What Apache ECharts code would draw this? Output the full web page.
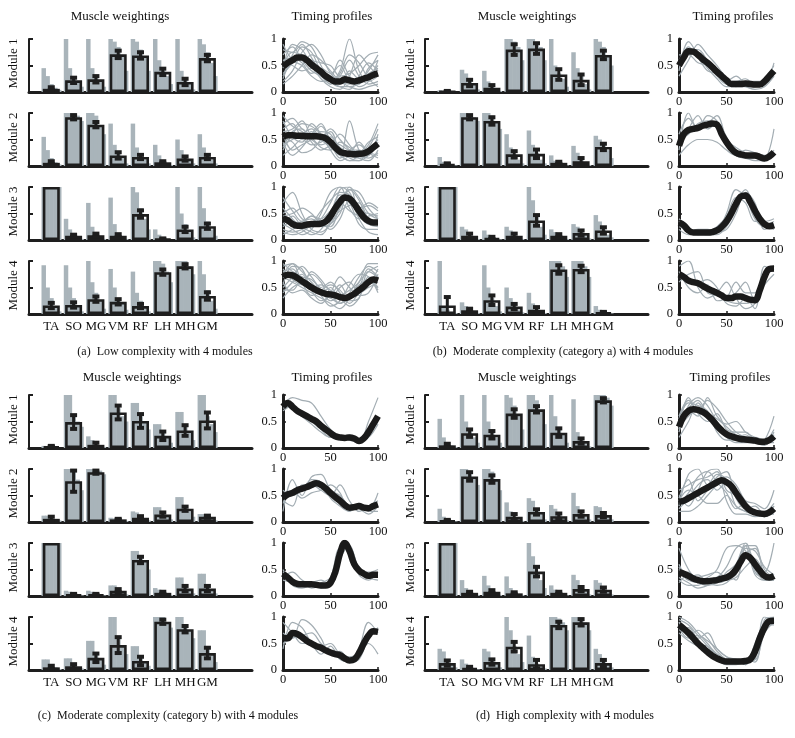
<!DOCTYPE html>
<html><head><meta charset="utf-8">
<script src="https://cdn.jsdelivr.net/npm/echarts@6/dist/echarts.min.js"></script>
<style>html,body{margin:0;padding:0;background:#fff}#c{width:795px;height:738px}</style>
</head><body><div id="c"></div>
<script>
const muscles = ['TA','SO','MG','VM','RF','LH','MH','GM'];
const modules = ['Module 1','Module 2','Module 3','Module 4'];
const captions = ['(a)  Low complexity with 4 modules','(b)  Moderate complexity (category a) with 4 modules','(c)  Moderate complexity (category b) with 4 modules','(d)  High complexity with 4 modules'];
const timeTicks = [0, 50, 100];

// ---- mean muscle weightings ----
const weightA = [[0.06,0.22,0.24,0.71,0.69,0.38,0.19,0.64],[0.06,0.92,0.78,0.20,0.17,0.07,0.14,0.17],[1.00,0.08,0.09,0.08,0.49,0.02,0.20,0.26],[0.16,0.17,0.28,0.23,0.15,0.79,0.90,0.34]];
const sdA = [[0.03,0.05,0.06,0.07,0.06,0.06,0.06,0.06],[0.03,0.04,0.05,0.06,0.04,0.02,0.04,0.04],[0,0.02,0.03,0.03,0.07,0.01,0.05,0.05],[0.05,0.05,0.05,0.05,0.04,0.05,0.04,0.07]];
const weightB = [[0.01,0.17,0.08,0.80,0.82,0.33,0.23,0.70],[0.04,0.92,0.85,0.22,0.23,0.06,0.09,0.36],[1.00,0.08,0.04,0.08,0.37,0.08,0.13,0.18],[0.16,0.07,0.26,0.14,0.08,0.84,0.85,0.03]];
const sdB = [[0.01,0.06,0.05,0.10,0.10,0.10,0.10,0.08],[0.01,0.04,0.07,0.06,0.08,0.02,0.06,0.06],[0,0.04,0.02,0.04,0.10,0.03,0.05,0.06],[0.16,0.03,0.09,0.05,0.05,0.08,0.06,0.01]];
const weightC = [[0.03,0.49,0.06,0.67,0.51,0.23,0.33,0.52],[0.06,0.77,0.94,0.05,0.08,0.14,0.25,0.10],[1.00,0.03,0.03,0.10,0.68,0.06,0.14,0.14],[0.05,0.07,0.23,0.47,0.17,0.91,0.77,0.32]];
const sdC = [[0.01,0.13,0.04,0.13,0.13,0.08,0.10,0.15],[0.04,0.20,0.03,0.01,0.03,0.04,0.04,0.02],[0,0.01,0.01,0.03,0.06,0.02,0.05,0.05],[0.03,0.04,0.08,0.15,0.08,0.04,0.06,0.10]];
const weightD = [[0.05,0.28,0.25,0.65,0.73,0.29,0.13,0.90],[0.03,0.86,0.81,0.10,0.19,0.11,0.15,0.13],[1.00,0.06,0.08,0.05,0.46,0.06,0.13,0.12],[0.13,0.04,0.15,0.44,0.11,0.85,0.90,0.13]];
const sdD = [[0.03,0.07,0.07,0.08,0.06,0.08,0.05,0.04],[0.01,0.08,0.07,0.05,0.05,0.05,0.05,0.04],[0,0.02,0.03,0.02,0.09,0.02,0.04,0.04],[0.05,0.02,0.05,0.09,0.08,0.06,0.06,0.06]];

// ---- individual subject weightings (sorted, grey) ----
const greyA = [
 [[0.45,0.3,0.15,0.08,0.04],[1,0.45,0.3,0.2,0.1],[1,0.45,0.3,0.2,0.1],[1,0.95,0.85,0.7,0.4],[1,0.95,0.8,0.65,0.4],[1,0.6,0.4,0.3,0.15],[1,0.4,0.25,0.15,0.05],[1,0.9,0.75,0.55,0.3]],
 [[0.55,0.3,0.15,0.07,0.03],[1,1,1,0.95,0.85],[1,1,0.95,0.75,0.6],[0.8,0.4,0.25,0.15,0.05],[0.8,0.35,0.2,0.12,0.05],[0.4,0.2,0.1,0.05,0.02],[0.5,0.3,0.15,0.1,0.05],[0.6,0.35,0.2,0.12,0.05]],
 [[1,1,1,1,1],[0.4,0.2,0.1,0.05,0.02],[0.7,0.25,0.12,0.06,0.02],[0.8,0.3,0.12,0.06,0.02],[1,0.9,0.6,0.4,0.2],[0.2,0.1,0.03,0.01,0],[1,0.5,0.3,0.15,0.05],[1,0.6,0.35,0.2,0.08]],
 [[0.92,0.5,0.3,0.15,0.05],[0.92,0.5,0.3,0.15,0.05],[1,0.6,0.4,0.25,0.1],[0.85,0.5,0.3,0.2,0.08],[0.8,0.4,0.25,0.12,0.05],[1,1,0.95,0.8,0.6],[1,1,1,0.9,0.75],[1,0.75,0.45,0.25,0.1]]];
const greyB = [
 [[0.03,0.02,0.01,0,0],[0.42,0.35,0.25,0.15,0.05],[0.4,0.2,0.1,0.05,0.02],[1,1,0.95,0.85,0.6],[1,1,0.95,0.85,0.6],[1,0.5,0.35,0.25,0.1],[0.75,0.45,0.3,0.15,0.05],[1,0.95,0.85,0.7,0.5]],
 [[0.17,0.08,0.04,0.02,0.01],[1,1,0.97,0.92,0.85],[1,1,0.95,0.85,0.7],[0.6,0.35,0.22,0.12,0.05],[0.67,0.4,0.25,0.12,0.05],[0.2,0.1,0.06,0.03,0.01],[0.38,0.25,0.12,0.06,0.02],[0.57,0.5,0.4,0.3,0.15]],
 [[1,1,1,1,1],[0.25,0.2,0.1,0.05,0.02],[0.18,0.1,0.05,0.03,0.01],[0.25,0.18,0.1,0.05,0.02],[1,0.75,0.45,0.25,0.1],[0.2,0.15,0.08,0.04,0.02],[0.3,0.25,0.15,0.08,0.03],[0.47,0.35,0.2,0.1,0.05]],
 [[1,0.15,0.08,0.04,0.02],[0.22,0.15,0.08,0.04,0.02],[0.92,0.5,0.3,0.15,0.05],[0.5,0.3,0.15,0.08,0.03],[0.4,0.2,0.1,0.05,0.02],[1,1,1,0.9,0.7],[1,1,1,0.9,0.7],[0.15,0.08,0.04,0.02,0.01]]];
const greyC = [
 [[0.04,0.03,0.02,0.01,0],[1,1,0.6,0.5,0.4],[0.22,0.15,0.08,0.04,0.02],[1,1,0.75,0.6,0.5],[0.85,0.85,0.6,0.5,0.35],[0.45,0.45,0.3,0.2,0.1],[0.68,0.68,0.4,0.3,0.15],[1,1,0.6,0.45,0.3]],
 [[0.12,0.12,0.08,0.05,0.03],[1,1,1,0.8,0.6],[1,1,1,0.97,0.9],[0.08,0.07,0.05,0.03,0.02],[0.2,0.18,0.1,0.05,0.03],[0.28,0.28,0.15,0.1,0.05],[0.47,0.47,0.3,0.2,0.1],[0.15,0.15,0.1,0.06,0.03]],
 [[1,1,1,1,1],[0.1,0.08,0.04,0.02,0.01],[0.1,0.08,0.04,0.02,0.01],[0.2,0.2,0.12,0.06,0.03],[0.85,0.85,0.75,0.65,0.5],[0.15,0.12,0.07,0.04,0.02],[0.35,0.35,0.2,0.1,0.05],[0.42,0.42,0.2,0.1,0.05]],
 [[0.2,0.2,0.1,0.05,0.02],[0.22,0.22,0.1,0.06,0.03],[0.55,0.55,0.3,0.2,0.1],[1,1,0.6,0.45,0.3],[0.45,0.45,0.25,0.15,0.08],[1,1,1,0.9,0.8],[1,1,0.85,0.75,0.6],[0.75,0.75,0.45,0.3,0.15]]];
const greyD = [
 [[0.55,0.2,0.1,0.05,0.02],[1,0.5,0.35,0.2,0.1],[1,0.5,0.3,0.2,0.1],[1,0.95,0.8,0.6,0.35],[1,1,0.9,0.7,0.45],[1,0.6,0.4,0.25,0.1],[0.92,0.3,0.15,0.08,0.03],[1,1,1,0.95,0.8]],
 [[0.25,0.1,0.05,0.02,0.01],[1,1,0.95,0.85,0.7],[1,1,0.95,0.8,0.6],[0.37,0.2,0.1,0.05,0.02],[0.45,0.4,0.25,0.15,0.05],[0.32,0.25,0.15,0.08,0.03],[0.55,0.3,0.2,0.1,0.05],[0.3,0.28,0.18,0.1,0.05]],
 [[1,1,1,1,1],[0.3,0.15,0.08,0.04,0.02],[0.38,0.2,0.1,0.05,0.02],[0.37,0.15,0.08,0.04,0.02],[1,0.75,0.45,0.3,0.15],[0.2,0.12,0.06,0.03,0.01],[0.4,0.3,0.15,0.08,0.03],[0.3,0.25,0.15,0.08,0.03]],
 [[0.4,0.35,0.2,0.1,0.05],[0.2,0.12,0.06,0.03,0.01],[0.4,0.35,0.2,0.1,0.05],[1,0.75,0.45,0.3,0.15],[0.65,0.25,0.12,0.06,0.03],[1,1,0.97,0.9,0.75],[1,1,1,0.9,0.75],[0.4,0.3,0.2,0.1,0.05]]];

// ---- mean timing profiles (samples every 5 % of cycle) ----
const meanA = [
 [0.48,0.55,0.6,0.65,0.65,0.6,0.52,0.45,0.38,0.3,0.24,0.2,0.2,0.24,0.22,0.2,0.22,0.25,0.28,0.32,0.35],
 [0.55,0.58,0.58,0.57,0.57,0.56,0.56,0.56,0.55,0.52,0.45,0.35,0.27,0.24,0.23,0.22,0.23,0.24,0.28,0.35,0.42],
 [0.4,0.37,0.3,0.27,0.27,0.29,0.3,0.3,0.31,0.35,0.45,0.6,0.72,0.8,0.78,0.68,0.55,0.43,0.36,0.33,0.33],
 [0.7,0.74,0.73,0.68,0.62,0.56,0.5,0.45,0.41,0.38,0.37,0.35,0.32,0.3,0.33,0.38,0.45,0.52,0.6,0.65,0.63]];
const meanB = [
 [0.5,0.65,0.77,0.76,0.7,0.62,0.55,0.47,0.38,0.3,0.22,0.15,0.15,0.15,0.16,0.15,0.14,0.14,0.2,0.3,0.4],
 [0.38,0.6,0.68,0.7,0.72,0.76,0.78,0.8,0.78,0.6,0.45,0.33,0.25,0.22,0.2,0.2,0.2,0.17,0.14,0.18,0.26],
 [0.33,0.28,0.18,0.14,0.14,0.14,0.14,0.15,0.18,0.25,0.35,0.5,0.68,0.82,0.84,0.72,0.55,0.4,0.3,0.26,0.28],
 [0.75,0.7,0.63,0.6,0.58,0.53,0.48,0.44,0.4,0.35,0.3,0.3,0.33,0.33,0.3,0.27,0.26,0.45,0.7,0.85,0.86]];
const meanC = [
 [0.78,0.85,0.78,0.7,0.65,0.6,0.55,0.5,0.42,0.35,0.28,0.22,0.2,0.19,0.2,0.18,0.13,0.18,0.3,0.45,0.6],
 [0.45,0.52,0.55,0.6,0.63,0.66,0.7,0.73,0.7,0.63,0.55,0.47,0.4,0.32,0.27,0.28,0.3,0.27,0.26,0.3,0.33],
 [0.42,0.35,0.27,0.23,0.22,0.22,0.22,0.21,0.2,0.2,0.25,0.45,0.8,1.0,0.85,0.6,0.48,0.42,0.38,0.4,0.4],
 [0.6,0.6,0.7,0.68,0.62,0.55,0.5,0.45,0.42,0.37,0.33,0.3,0.28,0.22,0.18,0.2,0.32,0.5,0.65,0.73,0.72]];
const meanD = [
 [0.4,0.6,0.7,0.73,0.72,0.68,0.62,0.53,0.42,0.33,0.26,0.22,0.19,0.17,0.16,0.15,0.14,0.12,0.12,0.15,0.22],
 [0.38,0.4,0.45,0.5,0.55,0.6,0.65,0.7,0.75,0.79,0.75,0.68,0.55,0.42,0.3,0.22,0.18,0.16,0.15,0.18,0.25],
 [0.45,0.42,0.38,0.33,0.3,0.28,0.28,0.29,0.3,0.33,0.35,0.4,0.5,0.65,0.77,0.72,0.6,0.48,0.38,0.35,0.38],
 [0.85,0.78,0.7,0.6,0.5,0.42,0.34,0.27,0.22,0.18,0.16,0.16,0.16,0.16,0.17,0.2,0.35,0.6,0.8,0.92,0.93]];

// ---- individual timing profiles (samples every 10 % of cycle) ----
const linesA = [
 [[0.3,0.7,0.95,0.85,0.5,0.2,0.1,0.1,0.15,0.3,0.5],[0.7,0.85,0.6,0.4,0.3,0.2,0.4,1.0,0.4,0.2,0.3],[0.2,0.4,0.75,0.9,0.7,0.35,0.2,0.15,0.2,0.4,0.7],[0.6,0.5,0.4,0.45,0.3,0.15,0.3,0.6,0.3,0.15,0.2],[0.45,0.9,0.8,0.5,0.25,0.1,0.05,0.3,0.7,0.5,0.3],[0.9,0.6,0.5,0.3,0.2,0.25,0.6,0.3,0.1,0.2,0.6],[0.15,0.3,0.5,0.7,0.6,0.4,0.2,0.1,0.05,0.1,0.15],[0.5,0.75,0.7,0.6,0.55,0.5,0.3,0.35,0.5,0.7,0.75],
  [0.35,0.55,0.85,0.75,0.4,0.3,0.15,0.4,0.25,0.35,0.45],[0.6,0.65,0.55,0.35,0.45,0.35,0.5,0.2,0.15,0.45,0.6],[0.25,0.6,0.65,0.55,0.35,0.2,0.1,0.05,0.3,0.55,0.4],[0.8,0.75,0.9,0.65,0.35,0.15,0.35,0.7,0.55,0.25,0.1]],
 [[0.8,0.9,0.7,0.6,0.75,0.5,0.3,0.2,0.15,0.2,0.4],[0.4,0.5,0.6,0.7,0.5,0.35,0.2,0.85,0.3,0.2,0.6],[0.6,0.3,0.4,0.5,0.65,0.6,0.3,0.15,0.1,0.3,0.5],[0.95,0.75,0.65,0.5,0.4,0.45,0.4,0.3,0.3,0.25,0.2],[0.3,0.6,0.8,0.75,0.6,0.4,0.2,0.1,0.2,0.4,0.8],[0.55,0.45,0.25,0.3,0.5,0.7,0.5,0.3,0.15,0.1,0.3],[0.7,0.8,0.55,0.8,0.6,0.3,0.1,0.2,0.45,0.3,0.35],[0.2,0.35,0.5,0.4,0.45,0.55,0.35,0.25,0.2,0.15,0.25],
  [0.65,0.7,0.85,0.55,0.35,0.3,0.45,0.35,0.25,0.45,0.55],[0.45,0.2,0.35,0.6,0.8,0.45,0.15,0.3,0.4,0.25,0.15],[0.85,0.55,0.45,0.65,0.55,0.65,0.25,0.1,0.1,0.2,0.45],[0.35,0.65,0.7,0.45,0.3,0.4,0.6,0.4,0.2,0.35,0.7]],
 [[0.2,0.15,0.2,0.3,0.4,0.7,1.0,0.9,0.5,0.3,0.25],[0.7,0.9,0.5,0.2,0.15,0.3,0.6,1.0,0.8,0.5,0.4],[0.4,0.3,0.35,0.4,0.3,0.4,0.8,0.7,0.3,0.2,0.2],[0.3,0.2,0.1,0.2,0.5,0.9,1.0,0.6,0.4,0.45,0.5],[0.5,0.6,0.4,0.3,0.25,0.3,0.5,0.95,0.9,0.6,0.4],[0.1,0.2,0.3,0.45,0.35,0.2,0.4,0.75,0.6,0.7,0.6],[0.6,0.4,0.2,0.1,0.2,0.5,0.85,0.8,0.4,0.15,0.1],[0.25,0.35,0.3,0.25,0.3,0.35,0.55,0.65,0.7,0.4,0.3],
  [0.45,0.5,0.6,0.5,0.3,0.25,0.65,0.95,0.75,0.35,0.3],[0.15,0.1,0.15,0.3,0.55,0.75,0.9,0.85,0.55,0.5,0.45],[0.8,0.55,0.35,0.45,0.4,0.55,0.7,0.55,0.45,0.3,0.35],[0.3,0.45,0.25,0.15,0.1,0.35,0.95,1.0,0.6,0.65,0.55]],
 [[0.9,0.95,0.8,0.6,0.4,0.3,0.2,0.4,0.7,0.9,0.8],[0.5,0.7,0.9,0.7,0.5,0.6,0.4,0.2,0.4,0.6,0.5],[0.7,0.6,0.5,0.4,0.3,0.2,0.1,0.3,0.6,0.8,0.9],[0.3,0.5,0.6,0.75,0.6,0.3,0.5,0.6,0.4,0.5,0.6],[0.8,0.85,0.6,0.5,0.55,0.45,0.3,0.15,0.3,0.7,0.5],[0.6,0.4,0.45,0.3,0.2,0.4,0.7,0.5,0.35,0.4,0.75],[0.95,0.8,0.7,0.65,0.45,0.25,0.35,0.45,0.6,0.95,0.95],[0.4,0.6,0.75,0.5,0.4,0.5,0.3,0.35,0.55,0.65,0.45],
  [0.55,0.9,0.85,0.45,0.25,0.35,0.55,0.3,0.5,0.85,0.7],[0.85,0.65,0.55,0.8,0.65,0.4,0.2,0.3,0.45,0.55,0.85],[0.45,0.45,0.65,0.55,0.35,0.15,0.25,0.55,0.75,0.7,0.4],[0.75,0.95,0.6,0.35,0.45,0.55,0.45,0.25,0.3,0.8,0.7]]];
const linesB = [
 [[0.4,0.95,0.7,0.45,0.25,0.1,0.1,0.1,0.1,0.15,0.3],[0.6,0.8,0.8,0.6,0.4,0.2,0.3,0.15,0.1,0.25,0.5],[0.3,0.6,0.9,0.7,0.5,0.25,0.1,0.2,0.2,0.2,0.55],[0.7,0.7,0.55,0.5,0.3,0.15,0.15,0.1,0.05,0.1,0.3],[0.5,0.85,0.65,0.4,0.35,0.2,0.2,0.25,0.15,0.2,0.4]],
 [[0.3,1.0,0.7,0.8,0.95,0.5,0.2,0.15,0.15,0.1,0.2],[0.5,0.6,0.8,0.85,0.75,0.4,0.3,0.2,0.2,0.15,0.7],[0.2,0.4,0.5,0.5,0.45,0.3,0.2,0.3,0.25,0.2,0.25],[0.6,0.9,0.7,0.95,0.85,0.55,0.2,0.15,0.1,0.1,0.2],[0.4,0.7,0.95,0.7,0.8,0.5,0.35,0.25,0.2,0.15,0.3]],
 [[0.35,0.15,0.1,0.1,0.15,0.5,0.95,0.8,0.4,0.25,0.3],[0.25,0.2,0.15,0.12,0.2,0.3,0.7,0.95,0.6,0.3,0.2],[0.4,0.25,0.1,0.15,0.25,0.45,0.8,0.7,0.35,0.35,0.4],[0.3,0.15,0.2,0.2,0.15,0.2,0.5,0.9,0.7,0.2,0.25],[0.2,0.1,0.12,0.1,0.1,0.25,0.6,0.85,0.5,0.3,0.35]],
 [[0.9,1.0,0.5,0.3,0.4,0.6,0.3,0.1,0.2,0.7,0.9],[0.7,0.6,0.6,0.65,0.5,0.2,0.15,0.3,0.1,0.9,0.8],[0.8,0.5,0.4,0.55,0.25,0.3,0.6,0.4,0.4,0.7,0.85],[0.6,0.75,0.8,0.4,0.35,0.25,0.2,0.2,0.3,0.8,0.9],[0.75,0.6,0.55,0.5,0.45,0.3,0.4,0.6,0.25,0.55,0.75]]];
const linesC = [
 [[0.8,0.95,0.9,0.85,0.6,0.35,0.2,0.15,0.1,0.5,0.95],[0.7,0.8,0.65,0.5,0.35,0.2,0.2,0.2,0.15,0.25,0.5],[0.85,0.75,0.6,0.5,0.45,0.25,0.15,0.2,0.15,0.2,0.45],[0.75,0.8,0.6,0.45,0.3,0.2,0.2,0.25,0.1,0.25,0.55]],
 [[0.2,0.8,0.5,0.85,0.9,0.6,0.5,0.3,0.25,0.15,0.3],[0.4,0.3,0.7,0.7,0.6,0.5,0.7,0.4,0.2,0.3,0.4],[0.6,0.5,0.6,0.8,0.75,0.45,0.3,0.2,0.3,0.25,0.55],[0.35,0.6,0.45,0.55,0.6,0.7,0.55,0.2,0.35,0.2,0.2]],
 [[0.45,0.3,0.25,0.15,0.2,0.3,0.85,0.9,0.5,0.4,0.35],[0.35,0.45,0.3,0.2,0.15,0.25,0.75,0.95,0.45,0.45,0.5],[0.5,0.2,0.15,0.2,0.25,0.35,0.9,0.85,0.4,0.3,0.45],[0.3,0.25,0.2,0.25,0.3,0.2,0.7,0.95,0.5,0.35,0.3]],
 [[0.4,0.9,0.8,0.5,0.3,0.45,0.2,0.15,0.4,0.9,0.7],[0.7,0.6,0.95,0.85,0.6,0.3,0.35,0.2,0.3,0.7,0.75],[0.9,0.7,0.5,0.5,0.45,0.5,0.3,0.25,0.3,0.5,0.3],[0.5,0.6,0.65,0.7,0.5,0.35,0.3,0.15,0.2,0.6,0.8]]];
const linesD = [
 [[0.3,0.8,0.95,0.8,0.5,0.3,0.2,0.15,0.1,0.1,0.2],[0.6,0.9,0.7,0.9,0.75,0.5,0.3,0.2,0.15,0.1,0.15],[0.2,0.5,0.85,0.6,0.4,0.2,0.1,0.1,0.1,0.15,0.6],[0.5,0.7,0.6,0.95,0.6,0.45,0.5,0.3,0.2,0.1,0.3],[0.4,0.6,0.75,0.55,0.45,0.3,0.2,0.25,0.15,0.15,0.2],[0.55,0.85,0.8,0.7,0.3,0.15,0.15,0.15,0.1,0.05,0.25],[0.45,0.75,0.9,0.65,0.55,0.4,0.25,0.2,0.2,0.15,0.35],[0.35,0.95,0.65,0.5,0.65,0.35,0.3,0.3,0.15,0.1,0.1]],
 [[0.3,0.9,1.0,0.7,0.9,0.8,0.3,0.2,0.15,0.1,0.3],[0.5,0.3,0.6,0.95,1.0,0.6,0.5,0.3,0.2,0.1,0.2],[0.2,0.2,0.3,0.5,0.7,0.85,0.7,0.4,0.35,0.25,0.6],[0.4,0.6,0.5,0.35,0.35,0.5,0.3,0.2,0.15,0.15,0.25],[0.6,0.7,0.8,0.85,0.95,0.4,0.15,0.15,0.1,0.15,0.3],[0.25,0.45,0.7,0.8,0.6,0.75,0.6,0.3,0.2,0.1,0.2],[0.45,0.8,0.4,0.6,0.85,0.95,0.45,0.25,0.3,0.15,0.15],[0.35,0.55,0.85,0.95,0.75,0.55,0.25,0.35,0.2,0.2,0.35]],
 [[0.6,0.3,0.25,0.2,0.25,0.45,0.6,0.95,0.95,0.4,0.35],[0.4,0.45,0.3,0.35,0.5,0.9,0.95,0.85,0.5,0.3,0.3],[0.3,0.2,0.2,0.3,0.25,0.3,0.5,1.0,0.6,0.35,0.4],[0.5,0.35,0.4,0.25,0.2,0.25,0.45,0.8,0.9,0.5,0.35],[0.9,0.5,0.3,0.3,0.35,0.3,0.35,0.55,0.7,0.45,1.0],[0.35,0.25,0.15,0.2,0.3,0.4,0.3,0.95,0.4,0.3,0.3],[0.55,0.3,0.35,0.4,0.45,0.35,0.4,0.9,0.85,0.55,0.4],[0.25,0.4,0.3,0.3,0.35,0.55,0.9,1.0,0.45,0.35,0.35]],
 [[1.0,0.9,0.7,0.5,0.3,0.2,0.15,0.15,0.2,0.95,1.0],[0.9,0.65,0.75,0.6,0.35,0.2,0.15,0.15,0.5,0.9,0.95],[0.75,0.8,0.55,0.35,0.25,0.15,0.15,0.2,0.15,0.8,0.9],[0.85,0.7,0.6,0.7,0.4,0.25,0.2,0.1,0.4,0.85,0.85],[0.7,0.55,0.45,0.4,0.3,0.2,0.2,0.2,0.3,0.75,0.95],[0.95,0.85,0.65,0.45,0.2,0.1,0.1,0.15,0.25,1.0,0.9],[0.9,0.75,0.5,0.45,0.3,0.15,0.2,0.1,0.35,0.9,1.0],[0.8,0.6,0.65,0.55,0.4,0.25,0.15,0.2,0.2,0.7,0.9]]];

// ---------------- build chart ----------------
const FONT = '"Liberation Serif","DejaVu Serif",serif';
const DARK = '#1e1e1e';
const GREYBAR = '#a9b4ba';
const GREYLINE = '#a3adb3';
const panels = [
  {w: weightA, sd: sdA, g: greyA, mean: meanA, lines: linesA},
  {w: weightB, sd: sdB, g: greyB, mean: meanB, lines: linesB},
  {w: weightC, sd: sdC, g: greyC, mean: meanC, lines: linesC},
  {w: weightD, sd: sdD, g: greyD, mean: meanD, lines: linesD}];
const offsets = [[0,0],[396,0],[0,356],[396,356]];
const modTops = [39,113,187,261];
const GH = 53;

const grid = [], xAxis = [], yAxis = [], series = [], graphic = [];

function greyRender(params, api){
  const m = api.value(0);
  const xa = api.coord([m - 0.44, 0])[0];
  const xb = api.coord([m + 0.43, 0])[0];
  const base = api.coord([m, 0])[1];
  const n = 5, w = (xb - xa) / n;
  const children = [];
  for (let k = 0; k < n; k++){
    const yk = api.coord([m, api.value(k + 1)])[1];
    children.push({type:'rect', shape:{x: xa + k*w, y: yk, width: w + 0.6, height: base - yk}, style:{fill: GREYBAR}});
  }
  return {type:'group', children};
}
function errRender(params, api){
  const m = api.value(0), v = api.value(1), s = api.value(2);
  if (s <= 0) return null;
  const p1 = api.coord([m, v - s]), p2 = api.coord([m, v + s]);
  return {type:'group', children:[
    {type:'line', shape:{x1:p1[0], y1:p1[1], x2:p2[0], y2:p2[1]}, style:{stroke: DARK, lineWidth: 3}},
    {type:'rect', shape:{x:p1[0]-3.5, y:p1[1]-2, width:7, height:4}, style:{fill: DARK}},
    {type:'rect', shape:{x:p2[0]-3.5, y:p2[1]-2, width:7, height:4}, style:{fill: DARK}}
  ]};
}

panels.forEach((P, p) => {
  const [dx, dy] = offsets[p];
  for (let i = 0; i < 4; i++){
    const top = modTops[i] + dy;
    // ---- muscle weighting grid ----
    let gi = grid.length;
    grid.push({left: 29 + dx, top: top, width: 223, height: GH});
    xAxis.push({gridIndex: gi, type:'value', min:0, max:10, interval:1,
      axisLine:{show:true, lineStyle:{color:DARK, width:3}}, axisTick:{show:false}, splitLine:{show:false},
      axisLabel:{show: i === 3, color:'#111', fontFamily: FONT, fontSize: 13, margin: 6,
        formatter: v => muscles[v - 1] || ''}});
    yAxis.push({gridIndex: gi, type:'value', min:0, max:1, interval:0.5,
      axisLine:{show:true, lineStyle:{color:DARK, width:2}},
      axisTick:{show:true, inside:true, length:4, lineStyle:{color:DARK, width:2}},
      axisLabel:{show:false}, splitLine:{show:false}});
    series.push({type:'custom', xAxisIndex: gi, yAxisIndex: gi, silent:true, z:1,
      renderItem: greyRender, encode:{x:0, y:1},
      data: P.g[i].map((arr, k) => [k + 1].concat(arr))});
    series.push({type:'bar', xAxisIndex: gi, yAxisIndex: gi, silent:true, z:2, barWidth: 17,
      itemStyle:{color:'rgba(0,0,0,0)', borderColor: DARK, borderWidth: 2.6},
      data: P.w[i].map((v, k) => [k + 1, v])});
    series.push({type:'custom', xAxisIndex: gi, yAxisIndex: gi, silent:true, z:3,
      renderItem: errRender, encode:{x:0, y:1},
      data: P.w[i].map((v, k) => [k + 1, v, P.sd[i][k]])});
    // ---- timing profile grid ----
    gi = grid.length;
    grid.push({left: 283 + dx, top: top, width: 95, height: GH});
    xAxis.push({gridIndex: gi, type:'value', min:0, max:100, interval:50,
      axisLine:{show:true, lineStyle:{color:DARK, width:3}},
      axisTick:{show:true, inside:true, length:3, lineStyle:{color:DARK, width:1.5}}, splitLine:{show:false},
      axisLabel:{color:'#111', fontFamily: FONT, fontSize: 12.5, margin: 3,
        formatter: v => timeTicks.includes(v) ? String(v) : ''}});
    yAxis.push({gridIndex: gi, type:'value', min:0, max:1, interval:0.5,
      axisLine:{show:true, lineStyle:{color:DARK, width:3}},
      axisTick:{show:true, inside:true, length:3, lineStyle:{color:DARK, width:1.5}}, splitLine:{show:false},
      axisLabel:{color:'#111', fontFamily: FONT, fontSize: 12.5, margin: 6}});
    P.lines[i].forEach(line => {
      series.push({type:'line', xAxisIndex: gi, yAxisIndex: gi, silent:true, showSymbol:false, smooth:0.35, z:1,
        lineStyle:{color: GREYLINE, width: 1.2},
        data: line.map((v, k) => [k * 10, v])});
    });
    series.push({type:'line', xAxisIndex: gi, yAxisIndex: gi, silent:true, showSymbol:false, smooth:0.4, z:3,
      lineStyle:{color:'#1a1a1a', width: 6.5},
      data: P.mean[i].map((v, k) => [k * 5, v])});
    // module label
    graphic.push({type:'text', x: (p % 2 === 0 ? 14 : 411), y: top + GH/2 - 2, rotation: Math.PI/2,
      style:{text: modules[i], font: '13px ' + FONT, fill:'#111', textAlign:'center', textVerticalAlign:'middle'}});
  }
});

// panel titles and captions
const titleCfg = [
  {mw:[120,17], tp:[332,17], cap:[165,352]},
  {mw:[527,17], tp:[733,17], cap:[563,352]},
  {mw:[132,378], tp:[332,378], cap:[168,716]},
  {mw:[527,378], tp:[730,378], cap:[565,716]}];
titleCfg.forEach((t, p) => {
  graphic.push({type:'text', x:t.mw[0], y:t.mw[1], style:{text:'Muscle weightings', font:'13px '+FONT, fill:'#111', textAlign:'center', textVerticalAlign:'middle'}});
  graphic.push({type:'text', x:t.tp[0], y:t.tp[1], style:{text:'Timing profiles', font:'13px '+FONT, fill:'#111', textAlign:'center', textVerticalAlign:'middle'}});
  graphic.push({type:'text', x:t.cap[0], y:t.cap[1], style:{text: captions[p], font:'12px '+FONT, fill:'#111', textAlign:'center', textVerticalAlign:'middle'}});
});

const chart = echarts.init(document.getElementById('c'), null, {renderer:'canvas'});
chart.setOption({animation:false, backgroundColor:'#fff', grid, xAxis, yAxis, series, graphic});
</script></body></html>
